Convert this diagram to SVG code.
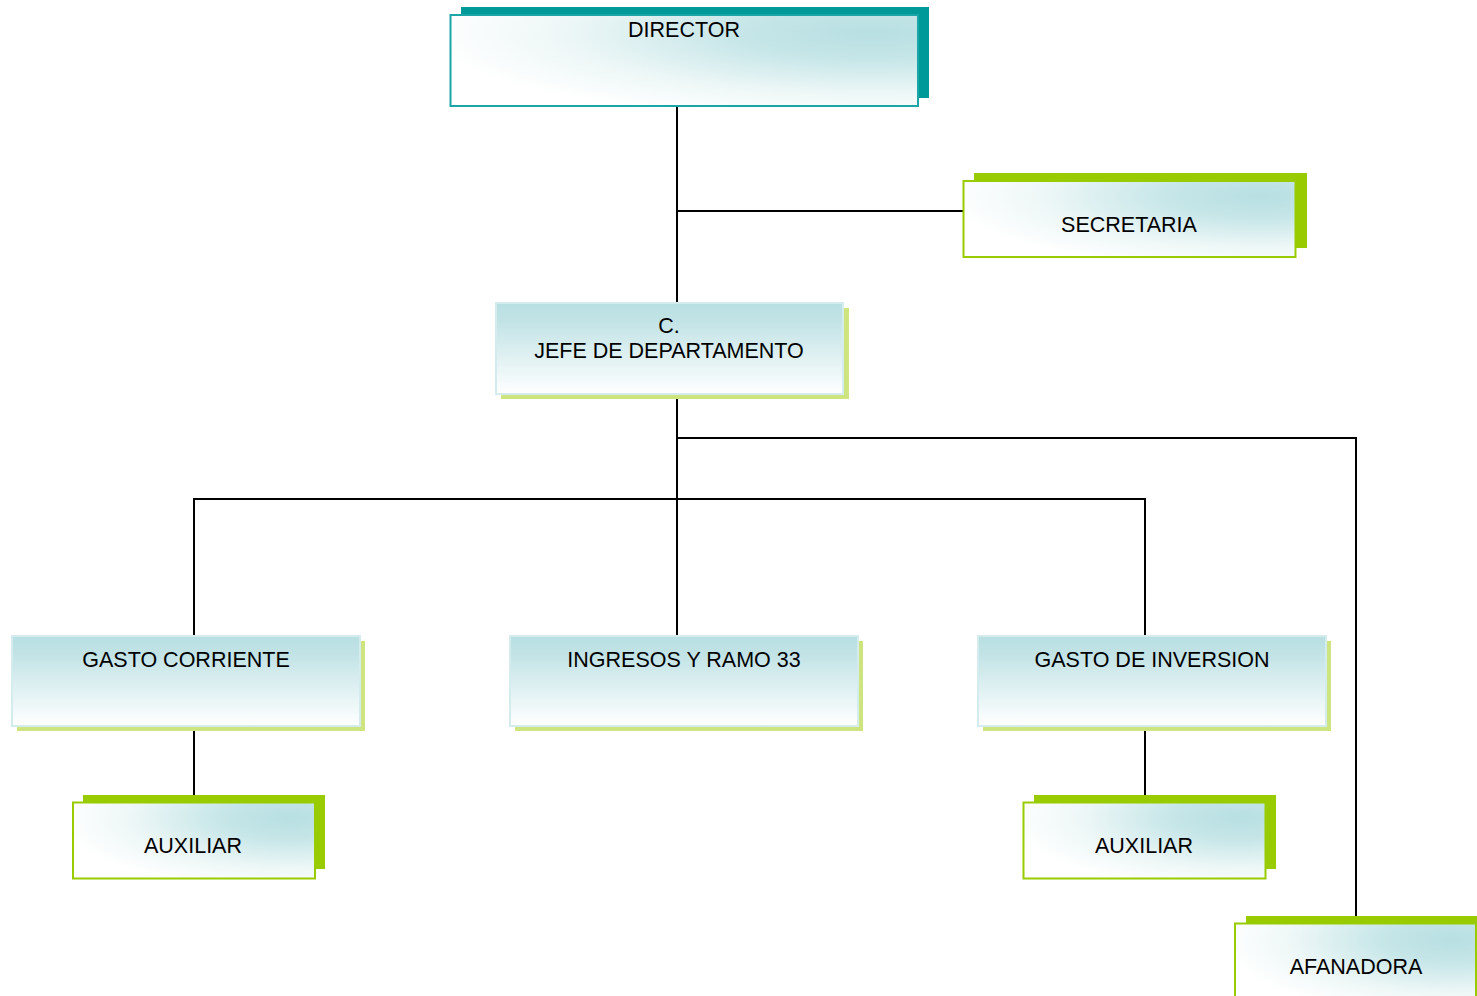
<svg xmlns="http://www.w3.org/2000/svg" width="1477" height="996" viewBox="0 0 1477 996">
<defs>
<radialGradient id="gDiag" cx="0.9" cy="0.2" r="0.95">
<stop offset="0" stop-color="#b8dfe2"/>
<stop offset="0.3" stop-color="#c6e6e8"/>
<stop offset="0.7" stop-color="#eef7f7"/>
<stop offset="1" stop-color="#ffffff"/>
</radialGradient>
<linearGradient id="gVert" x1="0" y1="0" x2="0" y2="1">
<stop offset="0" stop-color="#b8dfe2"/>
<stop offset="0.2" stop-color="#c2e3e6"/>
<stop offset="1" stop-color="#ffffff"/>
</linearGradient>
<style>
.lbl{font-family:"Liberation Sans",Arial,sans-serif;font-size:21.5px;fill:#000;text-anchor:middle}
.boxT{fill:url(#gDiag);stroke:#1aa6a6;stroke-width:2}
.shT{fill:#009999}
.boxG{fill:url(#gDiag);stroke:#99cc00;stroke-width:2}
.shG{fill:#99cc00}
.boxV{fill:url(#gVert);stroke:#d4ecee;stroke-width:2}
.shV{fill:#cde47f}
.con{fill:none;stroke:#000;stroke-width:2}
</style>
</defs>
<g id="connectors">
<path class="con" d="M677 106V303"/>
<path class="con" d="M677 211H963"/>
<path class="con" d="M677 394V636"/>
<path class="con" d="M677 438H1356V916"/>
<path class="con" d="M194 636V499H1145V636"/>
<path class="con" d="M194 727V795"/>
<path class="con" d="M1145 727V795"/>
</g>
<g id="director">
<rect class="shT" x="461" y="7" width="468" height="91"/>
<rect class="boxT" x="450.5" y="15" width="467.5" height="91"/>
<text class="lbl" x="684" y="37">DIRECTOR</text>
</g>
<g id="secretaria">
<rect class="shG" x="974" y="173" width="333" height="75"/>
<rect class="boxG" x="963.5" y="181" width="332" height="76"/>
<text class="lbl" x="1129" y="232">SECRETARIA</text>
</g>
<g id="jefe">
<rect class="shV" x="501" y="308" width="348" height="91"/>
<rect class="boxV" x="496" y="303" width="347" height="91"/>
<text class="lbl" x="669" y="333">C.</text>
<text class="lbl" x="669" y="358">JEFE DE DEPARTAMENTO</text>
</g>
<g id="gasto-corriente">
<rect class="shV" x="17" y="641" width="348" height="90"/>
<rect class="boxV" x="12" y="636" width="348" height="90"/>
<text class="lbl" x="186" y="667">GASTO CORRIENTE</text>
</g>
<g id="ingresos">
<rect class="shV" x="515" y="641" width="348" height="90"/>
<rect class="boxV" x="510" y="636" width="348" height="90"/>
<text class="lbl" x="684" y="667">INGRESOS Y RAMO 33</text>
</g>
<g id="gasto-inversion">
<rect class="shV" x="983" y="641" width="348" height="90"/>
<rect class="boxV" x="978" y="636" width="348" height="90"/>
<text class="lbl" x="1152" y="667">GASTO DE INVERSION</text>
</g>
<g id="auxiliar-1">
<rect class="shG" x="83" y="795" width="242" height="74"/>
<rect class="boxG" x="73" y="802.5" width="242" height="76"/>
<text class="lbl" x="193" y="853">AUXILIAR</text>
</g>
<g id="auxiliar-2">
<rect class="shG" x="1034" y="795" width="242" height="74"/>
<rect class="boxG" x="1023.5" y="802.5" width="242" height="76"/>
<text class="lbl" x="1144" y="853">AUXILIAR</text>
</g>
<g id="afanadora">
<rect class="shG" x="1246" y="916" width="240" height="90"/>
<rect class="boxG" x="1235" y="923.5" width="241" height="80"/>
<text class="lbl" x="1356" y="974">AFANADORA</text>
</g>
</svg>
